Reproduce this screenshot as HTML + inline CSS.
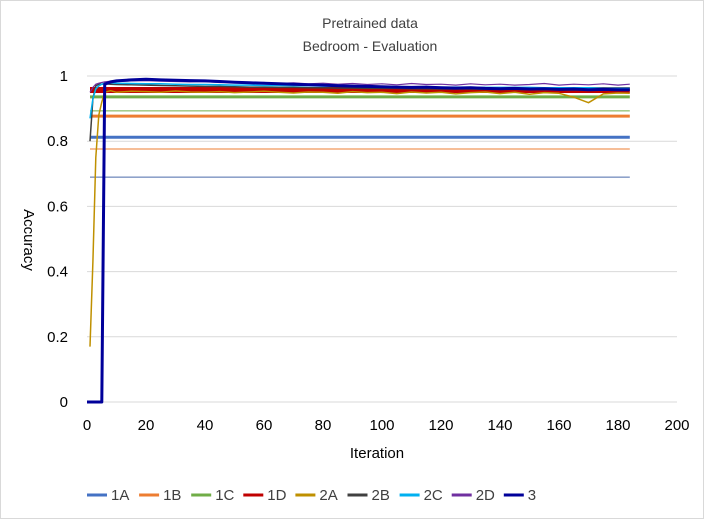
<!DOCTYPE html>
<html><head><meta charset="utf-8"><style>
body{margin:0;background:#fff}
svg{display:block;font-family:"Liberation Sans",sans-serif}
</style></head><body>
<svg id="chart" width="704" height="519" viewBox="0 0 704 519">
<rect x="0.5" y="0.5" width="703" height="518" fill="#fff" stroke="#d9d9d9"/>
<text x="370" y="28" text-anchor="middle" font-size="14" fill="#404040">Pretrained data</text>
<text x="370" y="51" text-anchor="middle" font-size="14" fill="#404040">Bedroom - Evaluation</text>
<g id="grid"></g><g id="ticks"></g><g id="series"></g>
<text x="377" y="458" text-anchor="middle" font-size="15" fill="#000">Iteration</text>
<text transform="translate(24,240) rotate(90)" text-anchor="middle" font-size="15" fill="#000">Accuracy</text>
<g id="legend"></g>
</svg>
<script>
const xTicks=[0,20,40,60,80,100,120,140,160,180,200];
const yTicks=[0,0.2,0.4,0.6,0.8,1];
const yTickLabels=["0","0.2","0.4","0.6","0.8","1"];
const iters=[0,1,2,3,4,5,6,8,10,15,20,25,30,35,40,45,50,55,60,65,70,75,80,85,90,95,100,105,110,115,120,125,130,135,140,145,150,155,160,165,170,175,180,184];
const s3=[0,0,0,0,0,0,0.975,0.982,0.985,0.988,0.99,0.988,0.987,0.986,0.985,0.983,0.981,0.979,0.978,0.976,0.975,0.973,0.972,0.97,0.969,0.968,0.967,0.966,0.965,0.966,0.964,0.963,0.964,0.962,0.961,0.962,0.96,0.961,0.959,0.96,0.958,0.959,0.958,0.958];
const s2A=[null,0.17,0.43,0.75,0.88,0.92,0.95,0.955,0.95,0.953,0.952,0.95,0.954,0.951,0.95,0.952,0.949,0.951,0.953,0.95,0.948,0.951,0.95,0.947,0.952,0.949,0.95,0.946,0.951,0.948,0.95,0.945,0.949,0.951,0.946,0.95,0.944,0.949,0.947,0.935,0.918,0.945,0.948,0.947];
const s2B=[null,0.8,0.93,0.97,0.975,0.975,0.976,0.975,0.974,0.973,0.972,0.971,0.97,0.969,0.968,0.968,0.967,0.966,0.966,0.965,0.965,0.964,0.964,0.963,0.963,0.962,0.962,0.962,0.961,0.961,0.96,0.96,0.96,0.959,0.959,0.959,0.958,0.958,0.958,0.957,0.957,0.957,0.956,0.956];
const s2C=[null,0.87,0.93,0.96,0.97,0.975,0.978,0.979,0.978,0.977,0.976,0.976,0.975,0.974,0.974,0.973,0.972,0.972,0.971,0.971,0.97,0.97,0.969,0.969,0.968,0.968,0.968,0.967,0.967,0.967,0.966,0.966,0.966,0.965,0.965,0.965,0.965,0.964,0.964,0.964,0.964,0.963,0.963,0.963];
const s2D=[null,0.95,0.965,0.975,0.978,0.98,0.982,0.984,0.983,0.985,0.986,0.984,0.983,0.982,0.983,0.98,0.981,0.979,0.98,0.977,0.979,0.976,0.978,0.975,0.977,0.974,0.976,0.973,0.977,0.974,0.975,0.972,0.976,0.973,0.975,0.972,0.974,0.977,0.972,0.975,0.973,0.976,0.972,0.975];
const flatIters=[1,184];
const s1A=[0.812,0.812];
const s1B=[0.877,0.877];
const s1C=[0.936,0.936];
const s1D=[0.957,0.957];
const thinOrange=[0.776,0.776];
const thinBlue=[0.69,0.69];
const thinGreen=[0.893,0.893];
const thinRed1=[0.95,0.95];
const thinRed2=[0.964,0.964];

const NS="http://www.w3.org/2000/svg";
const X=v=>87+v*2.95;
const Y=v=>402-v*326;
function mk(tag,attrs,parent){const e=document.createElementNS(NS,tag);for(const k in attrs)e.setAttribute(k,attrs[k]);parent.appendChild(e);return e;}
const grid=document.getElementById('grid'),ticks=document.getElementById('ticks'),ser=document.getElementById('series'),leg=document.getElementById('legend');
yTicks.forEach((t,i)=>{
  const l=mk('line',{x1:87,x2:677,y1:Y(t),y2:Y(t),stroke:'#d9d9d9','stroke-width':1},grid);
  
  
  const tx=mk('text',{x:68,y:Y(t)+5,'text-anchor':'end','font-size':15,fill:'#000'},ticks);
  tx.textContent=yTickLabels[i];
  
  
});
xTicks.forEach(t=>{
  const tx=mk('text',{x:X(t),y:430,'text-anchor':'middle','font-size':15,fill:'#000'},ticks);
  tx.textContent=t;
  
  
});
function line(xs,ys,color,w,name){
  let d='';xs.forEach((x,i)=>{if(ys[i]==null)return;d+=(d?'L':'M')+X(x).toFixed(1)+','+Y(ys[i]).toFixed(1);});
  const p=mk('path',{d:d,fill:'none',stroke:color,'stroke-width':w,'stroke-linejoin':'round'},ser);
  
  
}
line(flatIters,thinBlue,'#4a6aaa',1,'series-extra-blue');
line(flatIters,thinOrange,'#ed7d31',1,'series-extra-orange');
line(flatIters,thinGreen,'#70ad47',1,'series-extra-green');
line(flatIters,s1A,'#4472c4',3,'series-1a');
line(flatIters,s1B,'#ed7d31',3,'series-1b');
line(flatIters,s1C,'#70ad47',3,'series-1c');
line(flatIters,thinRed1,'#c00000',1.5,'series-extra-red');
line(flatIters,s1D,'#c00000',3,'series-1d');
line(flatIters,thinRed2,'#c00000',1.5,'series-extra-red-2');
line(iters,s2A,'#bf9000',1.5,'series-2a');
line(iters,s2B,'#404040',1.5,'series-2b');
line(iters,s2C,'#00b0f0',1.5,'series-2c');
line(iters,s2D,'#7030a0',1.2,'series-2d');
line(iters,s3,'#00009a',3,'series-3');
const legendItems=[['1A','#4472c4'],['1B','#ed7d31'],['1C','#70ad47'],['1D','#c00000'],['2A','#bf9000'],['2B','#404040'],['2C','#00b0f0'],['2D','#7030a0'],['3','#00009a']];
legendItems.forEach((it,i)=>{
  const x0=87+i*52.1;
  const g=mk('g',{},leg);
  
  
  mk('line',{x1:x0,x2:x0+20,y1:495,y2:495,stroke:it[1],'stroke-width':3},g);
  const t=mk('text',{x:x0+24,y:500,'font-size':15,fill:'#404040'},g);
  t.textContent=it[0];
});
</script>
</body></html>
